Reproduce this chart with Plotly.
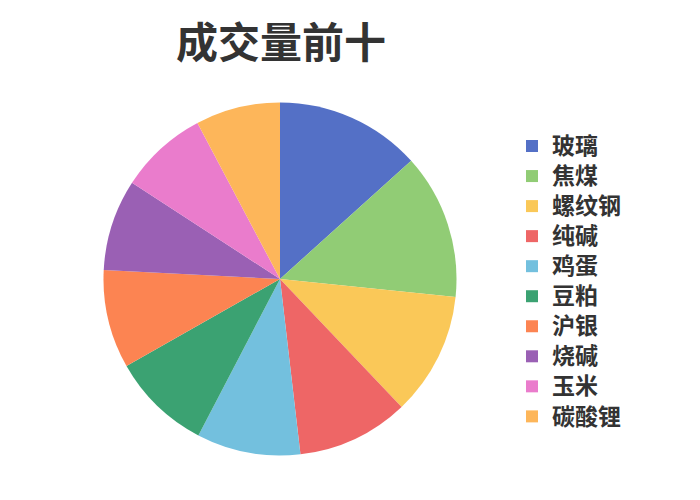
import plotly.graph_objects as go

labels = ["玻璃", "焦煤", "螺纹钢", "纯碱", "鸡蛋", "豆粕", "沪银", "烧碱", "玉米", "碳酸锂"]
values = [480, 479, 406, 369, 342, 329, 325, 301, 291, 279]
colors = ["#5470c6", "#91cc75", "#fac858", "#ee6666", "#73c0de",
          "#3ba272", "#fc8452", "#9a60b4", "#ea7ccc", "#fdb65a"]

W, H = 700, 500
OFF = 8  # page body margin
cx, cy, r = 280 - OFF, 279 - OFF, 176.5

legend_text = ['<span style="font-size:23px">%s</span>' % s for s in labels]

fig = go.Figure(go.Pie(
    labels=legend_text,
    values=values,
    sort=False,
    direction="clockwise",
    rotation=0,
    textinfo="none",
    hovertemplate="%{label}: %{value}<extra></extra>",
    marker=dict(colors=colors, line=dict(width=0)),
    domain=dict(x=[(cx - r) / W, (cx + r) / W], y=[1 - (cy + r) / H, 1 - (cy - r) / H]),
))

fig.update_layout(
    width=W, height=H,
    margin=dict(l=0, r=0, t=0, b=0),
    paper_bgcolor="white",
    font=dict(family="Noto Sans CJK SC", color="#333333"),
    title=dict(text="成交量前十", x=(281 - OFF) / W, xanchor="center", xref="paper",
               y=1 - (43 - OFF) / H, yanchor="middle", yref="container",
               font=dict(size=42, weight="bold", color="#333333", family="Noto Sans CJK SC")),
    legend=dict(x=(512 - OFF) / W, xanchor="left", y=1 - (126 - OFF) / H, yanchor="top",
                font=dict(size=20.8, weight="bold", color="#333333", family="Noto Sans CJK SC"),
                itemwidth=30, tracegroupgap=0, bgcolor="rgba(0,0,0,0)"),
    showlegend=True,
)

fig.write_html("out.html")
